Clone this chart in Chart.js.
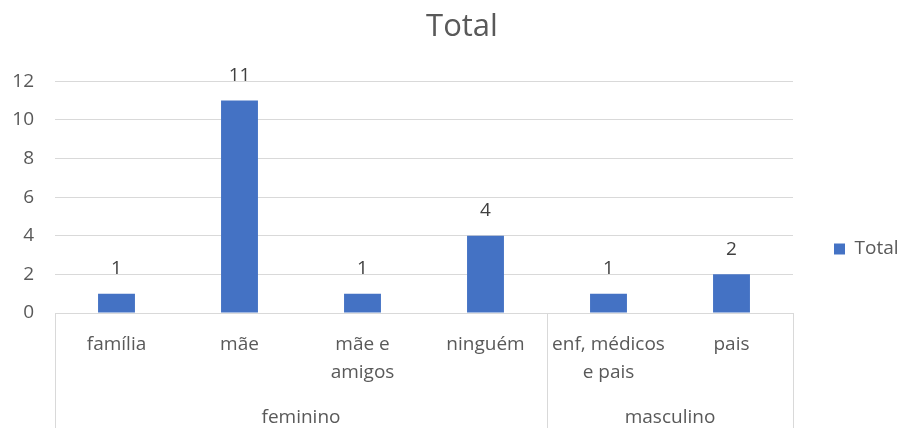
<!DOCTYPE html>
<html>
<head>
<meta charset="utf-8">
<script src="https://cdn.jsdelivr.net/npm/chart.js@4"></script>
<style>
  html, body { margin: 0; padding: 0; background: #ffffff; }
  canvas { display: block; }
</style>
</head>
<body>
<canvas id="chart" width="901" height="428"></canvas>
<script>
// Category labels (first axis level), multi-line where they wrap
const categories = [['família'], ['mãe'], ['mãe e', 'amigos'], ['ninguém'], ['enf, médicos', 'e pais'], ['pais']];
// Second axis level: group names and how many categories each covers
const groups = ['feminino', 'masculino'];
const groupSizes = [4, 2];
// Series values
const totals = [1, 11, 1, 4, 1, 2];
const yTicks = [0, 2, 4, 6, 8, 10, 12];

const FONT = "'Open Sans', 'Noto Sans', sans-serif";
const TEXT = '#595959';
const LINE = '#d9d9d9';
const SIZE = 19;

// Value labels above each bar
const valueLabels = {
  id: 'valueLabels',
  afterDatasetsDraw(chart) {
    const ctx = chart.ctx;
    const meta = chart.getDatasetMeta(0);
    ctx.save();
    ctx.font = SIZE + 'px ' + FONT;
    ctx.fillStyle = '#404040';
    ctx.textAlign = 'center';
    ctx.textBaseline = 'middle';
    meta.data.forEach((bar, i) => {
      ctx.fillText(String(chart.data.datasets[0].data[i]), bar.x, bar.y - 25);
    });
    ctx.restore();
  }
};

// Title sits a little right of the canvas centre; legend sits a little lower
const blockOffsets = {
  id: 'blockOffsets',
  afterLayout(chart) {
    if (chart.titleBlock) chart.titleBlock.left += 23;
    if (chart.legend) {
      chart.legend.top += 31;
      chart.legend.bottom += 31;
    }
  }
};

// Second level of the category axis: separators and group names
const groupAxis = {
  id: 'groupAxis',
  afterDraw(chart) {
    const ctx = chart.ctx;
    const xs = chart.scales.x;
    const area = chart.chartArea;
    const half = (xs.getPixelForValue(1) - xs.getPixelForValue(0)) / 2;
    const bottom = chart.height;
    ctx.save();
    ctx.strokeStyle = LINE;
    ctx.lineWidth = 1;
    ctx.font = SIZE + 'px ' + FONT;
    ctx.fillStyle = TEXT;
    ctx.textAlign = 'center';
    ctx.textBaseline = 'middle';
    let start = 0;
    const edge = (px) => {
      const x = Math.round(px) + 0.5;
      ctx.beginPath();
      ctx.moveTo(x, area.bottom);
      ctx.lineTo(x, bottom);
      ctx.stroke();
    };
    edge(xs.getPixelForValue(0) - half);
    groups.forEach((g, gi) => {
      const end = start + groupSizes[gi] - 1;
      const left = xs.getPixelForValue(start) - half;
      const right = xs.getPixelForValue(end) + half;
      edge(right);
      ctx.fillText(g, (left + right) / 2, 418);
      start = end + 1;
    });
    ctx.restore();
  }
};

new Chart(document.getElementById('chart'), {
  type: 'bar',
  data: {
    labels: categories,
    datasets: [{
      label: 'Total',
      data: totals,
      backgroundColor: '#4472C4',
      borderWidth: 0,
      barPercentage: 0.3,
      categoryPercentage: 1.0
    }]
  },
  options: {
    responsive: false,
    animation: false,
    devicePixelRatio: 1,
    layout: { padding: { left: 0, right: 0, top: 8, bottom: 0 } },
    plugins: {
      title: {
        display: true,
        text: 'Total',
        color: TEXT,
        font: { family: FONT, size: 31, weight: 'normal' },
        padding: { top: 1, bottom: 35 }
      },
      legend: {
        display: true,
        position: 'right',
        maxWidth: 108,
        labels: {
          color: TEXT,
          font: { family: FONT, size: SIZE },
          boxWidth: 11,
          boxHeight: 11,
          padding: 41
        }
      },
      tooltip: { enabled: false }
    },
    scales: {
      x: {
        grid: { display: false, drawTicks: false },
        border: { display: true, color: LINE },
        ticks: {
          color: TEXT,
          font: { family: FONT, size: SIZE, lineHeight: 28 / SIZE },
          padding: 18,
          maxRotation: 0,
          autoSkip: false
        },
        afterFit(scale) { scale.height = 115; }
      },
      y: {
        min: 0,
        max: 12,
        afterBuildTicks(scale) { scale.ticks = yTicks.map(v => ({ value: v })); },
        grid: { color: LINE, drawTicks: false },
        border: { display: false },
        ticks: {
          color: TEXT,
          font: { family: FONT, size: SIZE },
          padding: 21
        },
        afterFit(scale) { scale.width = 55; }
      }
    }
  },
  plugins: [valueLabels, blockOffsets, groupAxis]
});
</script>
</body>
</html>
